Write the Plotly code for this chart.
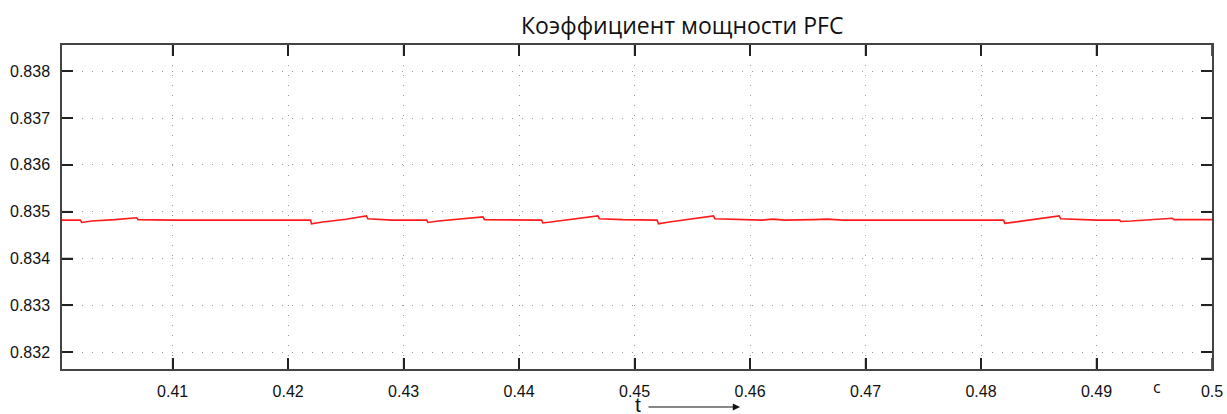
import plotly.graph_objects as go

# time (s) and PFC power factor values
t_vals = [0.40042, 0.4020, 0.40213, 0.4030, 0.4050, 0.40689, 0.40700, 0.4100, 0.4150,
          0.4200, 0.42195, 0.42202, 0.4230, 0.4250, 0.42678, 0.42690, 0.4290,
          0.43200, 0.43211, 0.4330, 0.4350, 0.43687, 0.43700, 0.4400,
          0.44195, 0.44206, 0.4430, 0.4450, 0.44682, 0.44695, 0.4490,
          0.45195, 0.45207, 0.4530, 0.4550, 0.45683, 0.45695, 0.4590,
          0.4610, 0.46193, 0.4630, 0.4655, 0.46669, 0.4680, 0.4700, 0.4750, 0.4800,
          0.48195, 0.48206, 0.4830, 0.4850, 0.48676, 0.48690, 0.4900,
          0.49200, 0.49209, 0.4930, 0.4950, 0.49656, 0.49670, 0.5000]
pf_vals = [0.83482, 0.83482, 0.83477, 0.83480, 0.83483, 0.83487, 0.83483, 0.83482, 0.83482,
           0.83482, 0.83482, 0.83474, 0.83478, 0.83484, 0.83491, 0.83485, 0.83482,
           0.83482, 0.83477, 0.83480, 0.83485, 0.83489, 0.83483, 0.83482,
           0.83482, 0.83476, 0.83479, 0.83485, 0.83491, 0.83485, 0.83483,
           0.83482, 0.83474, 0.83478, 0.83485, 0.83491, 0.83485, 0.83483,
           0.83482, 0.83484, 0.83482, 0.83483, 0.83484, 0.83482, 0.83482, 0.83482, 0.83482,
           0.83482, 0.83475, 0.83478, 0.83485, 0.83491, 0.83485, 0.83482,
           0.83482, 0.83479, 0.83480, 0.83484, 0.83486, 0.83483, 0.83483]

x_ticks = [0.41, 0.42, 0.43, 0.44, 0.45, 0.46, 0.47, 0.48, 0.49, 0.5]
x_tick_labels = ["0.41", "0.42", "0.43", "0.44", "0.45", "0.46", "0.47", "0.48", "0.49", "0.5"]
y_ticks = [0.832, 0.833, 0.834, 0.835, 0.836, 0.837, 0.838]
y_tick_labels = ["0.832", "0.833", "0.834", "0.835", "0.836", "0.837", "0.838"]

title_text = "Коэффициент мощности PFC"
x_unit = "с"
x_name = "t"

fig = go.Figure()
fig.add_trace(go.Scatter(x=t_vals, y=pf_vals, mode="lines",
                         line=dict(color="#ff1a1a", width=1.6), showlegend=False,
                         hoverinfo="skip"))

axis_font = dict(family="Liberation Sans, Arial, sans-serif", size=16, color="#111")
common = dict(showline=True, linecolor="#444", linewidth=1.5, mirror="ticks",
              ticks="inside", ticklen=11, tickcolor="#222", tickwidth=1.5,
              showgrid=True, gridcolor="#999", gridwidth=1, griddash="1px,9px",
              zeroline=False, tickfont=axis_font, automargin=False)

fig.update_xaxes(range=[0.40042, 0.5], tickvals=x_ticks, ticktext=x_tick_labels,
                 ticklabelstandoff=7, **common)
fig.update_yaxes(range=[0.83164, 0.83856], tickvals=y_ticks, ticktext=y_tick_labels,
                 ticklabelstandoff=7, **common)

# explicit inside tick marks on all four sides (drawn from the tick lists)
plot_w, plot_h, tlen = 1150.0, 324.0, 11.0
for tv in x_ticks:
    fig.add_shape(type="line", xref="x", yref="y domain", x0=tv, x1=tv, y0=0, y1=tlen / plot_h,
                  line=dict(color="#222", width=1.5), layer="above")
    fig.add_shape(type="line", xref="x", yref="y domain", x0=tv, x1=tv, y0=1, y1=1 - tlen / plot_h,
                  line=dict(color="#222", width=1.5), layer="above")
for tv in y_ticks:
    fig.add_shape(type="line", xref="x domain", yref="y", x0=0, x1=tlen / plot_w, y0=tv, y1=tv,
                  line=dict(color="#222", width=1.5), layer="above")
    fig.add_shape(type="line", xref="x domain", yref="y", x0=1, x1=1 - tlen / plot_w, y0=tv, y1=tv,
                  line=dict(color="#222", width=1.5), layer="above")

fig.add_annotation(text=title_text, xref="paper", yref="paper", x=0.5395, y=1.0,
                   yshift=2, xanchor="center", yanchor="bottom", showarrow=False,
                   font=dict(family="Open Sans, Noto Sans, sans-serif", size=23, color="#111"))
fig.add_annotation(text=x_unit, xref="x", yref="paper", x=0.4952, y=0, yshift=-18,
                   xanchor="center", yanchor="middle", showarrow=False,
                   font=dict(family="Open Sans, sans-serif", size=16, color="#111"))
fig.add_annotation(text=x_name, xref="paper", yref="paper", x=0.5005, y=0, yshift=-35,
                   xanchor="center", yanchor="middle", showarrow=False, height=18,
                   font=dict(family="Liberation Sans, Arial, sans-serif", size=21, color="#111"))
fig.add_annotation(x=0.5896, y=0, ax=0.5087, ay=0, xref="x domain", yref="y domain",
                   axref="x domain", ayref="y domain", yshift=-38, text="", showarrow=True,
                   arrowhead=2, arrowsize=1.2, arrowwidth=1.2, arrowcolor="#111")

fig.update_layout(width=1227, height=414, margin=dict(l=62, r=15, t=45, b=45),
                  paper_bgcolor="white", plot_bgcolor="white")

fig.write_html("out.html", config={"displayModeBar": False},
               post_script="document.body.style.margin='0';document.body.style.overflow='hidden';")
